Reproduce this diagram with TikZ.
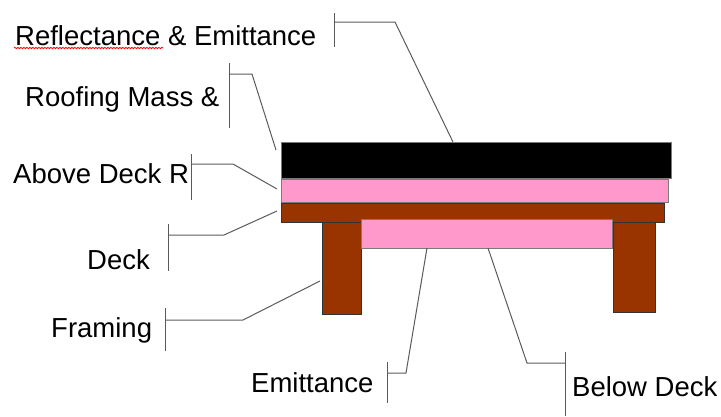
\documentclass[tikz,border=0pt]{standalone}
\usepackage{fontspec}
\setmainfont{Liberation Sans}
\usetikzlibrary{decorations.pathmorphing}
\definecolor{roofpink}{HTML}{FF99CC}
\definecolor{deckbrown}{HTML}{993300}
\definecolor{leadgray}{HTML}{5A5A5A}
\definecolor{edgegray}{HTML}{7A7A7A}
\begin{document}
\begin{tikzpicture}[x=1pt,y=-1pt,
  lbl/.style={anchor=base west,inner sep=0pt,font=\fontsize{27.5}{33}\selectfont},
  leader/.style={draw=leadgray,line width=1pt},
  layer/.style={draw=edgegray,line width=1pt},
  wood/.style={fill=deckbrown,draw=black!80,line width=1pt}]
\useasboundingbox (0,0) rectangle (721,416);
% layers
\fill[black,draw=edgegray,line width=1pt] (281,142) rectangle (671,178);
\path[layer,fill=roofpink] (281,179) rectangle (668,202);
\path[wood] (281,203) rectangle (664,222);
\path[wood] (322,222) rectangle (361,314);
\path[wood] (613,222) rectangle (655,312);
\path[layer,fill=roofpink] (361,219) rectangle (612,248);
% labels
\node[lbl] (refl) at (15,45) {Reflectance \& Emittance};
\node[lbl] (mass) at (25,106) {Roofing Mass \&};
\node[lbl] (adr) at (13,183) {Above Deck R};
\node[lbl] (deck) at (87,269) {Deck};
\node[lbl] (fram) at (51,337) {Framing};
\node[lbl] (emit) at (251,392) {Emittance};
\node[lbl] (bdeck) at (572,396) {Below Deck};
\draw[red,line width=0.8pt,decorate,decoration={snake,amplitude=0.7pt,segment length=3pt}] (14,48) -- (163,48);
% leader target points
\coordinate (tRefl) at (453,142);
\coordinate (tMass) at (276,150);
\coordinate (tAdr) at (277,189);
\coordinate (tDeck) at (277,211);
\coordinate (tFram) at (320,281);
\coordinate (tEmit) at (427,248);
\coordinate (tBdeck) at (488,248);
% leaders
\draw[leader] (334,13) -- (334,47);
\draw[leader] (334,22) -- (395,22) -- (tRefl);
\draw[leader] (229,63) -- (229,128);
\draw[leader] (229,74) -- (252,74) -- (tMass);
\draw[leader] (191,154) -- (191,200);
\draw[leader] (191,164) -- (233,164) -- (tAdr);
\draw[leader] (168,224) -- (168,271);
\draw[leader] (168,235) -- (224,235) -- (tDeck);
\draw[leader] (165.5,308) -- (165.5,351);
\draw[leader] (165.5,320) -- (243,320) -- (tFram);
\draw[leader] (387,362) -- (387,403);
\draw[leader] (387,373) -- (406,373) -- (tEmit);
\draw[leader] (565.5,352) -- (565.5,416);
\draw[leader] (565.5,363) -- (527,363) -- (tBdeck);
\end{tikzpicture}
\end{document}
